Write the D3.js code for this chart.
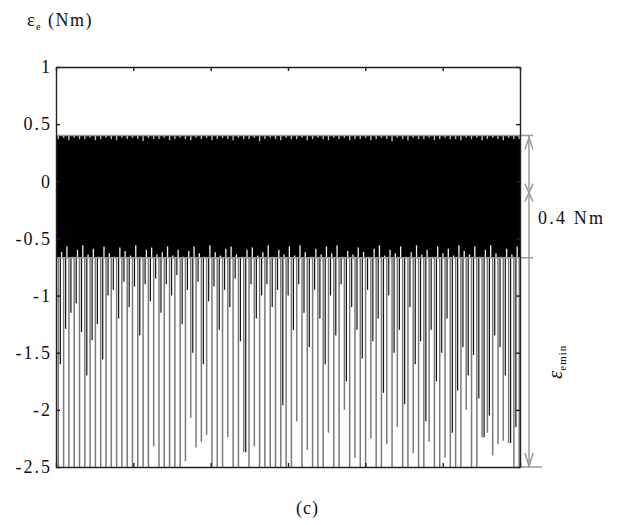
<!DOCTYPE html>
<html>
<head>
<meta charset="utf-8">
<script src="https://cdn.jsdelivr.net/npm/d3@7"></script>
<style>
  html, body { margin: 0; padding: 0; background: #fff; }
  svg { display: block; }
  svg text { font-family: 'Liberation Serif', 'Times New Roman', Times, serif !important; fill: #111; }
</style>
</head>
<body>
<svg id="chart" width="623" height="525"></svg>
<script>
// Axis ticks
const xTicks = [0, 1, 2, 3, 4, 5, 6];
const yTicks = [-2.5, -2, -1.5, -1, -0.5, 0, 0.5, 1];
const yTickLabels = ["-2.5", "-2", "-1.5", "-1", "-0.5", "0", "0.5", "1"];

// Torque ripple envelope levels (Nm)
const bandHigh = 0.4;
const bandLow = -0.67;
const axisMin = -2.5;

// Switching instants (s): one torque dip per step
const spikeStart = 0.03;
const spikeStep = 0.0685;

// Small notches on the upper envelope at each switching instant
const topDip = [
  0.37, 0.38, 0.36, 0.38, 0.37, 0.37, 0.38, 0.36, 0.37, 0.38,
  0.37, 0.36, 0.38, 0.37, 0.38, 0.37, 0.35, 0.38, 0.37, 0.37,
  0.38, 0.36, 0.37, 0.38, 0.37, 0.36, 0.38, 0.37, 0.38, 0.36,
  0.37, 0.38, 0.37, 0.36, 0.38, 0.37, 0.37, 0.38, 0.35, 0.37,
  0.38, 0.37, 0.36, 0.38, 0.37, 0.37, 0.38, 0.36, 0.37, 0.38,
  0.37, 0.36, 0.38, 0.37, 0.38, 0.36, 0.37, 0.37, 0.38, 0.36,
  0.37, 0.38, 0.37, 0.35, 0.38, 0.37, 0.36, 0.38, 0.37, 0.37,
  0.38, 0.36, 0.37, 0.38, 0.37, 0.37, 0.36, 0.38, 0.37, 0.38,
  0.36, 0.37, 0.38, 0.37, 0.36, 0.38, 0.37, 0.37
];

// Local minimum of the ripple between two dips (Nm)
const gapTop = [
  -0.62, -0.57, -0.66, -0.6, -0.56, -0.64, -0.59, -0.66, -0.57, -0.63,
  -0.66, -0.58, -0.61, -0.65, -0.56, -0.66, -0.6, -0.58, -0.64, -0.62,
  -0.57, -0.65, -0.6, -0.66, -0.61, -0.57, -0.63, -0.66, -0.56, -0.62,
  -0.65, -0.59, -0.57, -0.64, -0.66, -0.6, -0.58, -0.65, -0.62, -0.56,
  -0.66, -0.6, -0.64, -0.57, -0.65, -0.56, -0.62, -0.66, -0.59, -0.64,
  -0.57, -0.63, -0.56, -0.66, -0.61, -0.64, -0.58, -0.62, -0.66, -0.59,
  -0.56, -0.65, -0.6, -0.63, -0.57, -0.66, -0.62, -0.56, -0.64, -0.6,
  -0.66, -0.57, -0.63, -0.59, -0.65, -0.56, -0.61, -0.64, -0.57, -0.66,
  -0.6, -0.56, -0.63, -0.66, -0.59, -0.64, -0.57, -0.62
];

// Deepest value of each dip, first trace (Nm)
const deepMin = [
  -2.5, -2.5, -2.5, -2.5, -2.5, -2.5, -2.5, -2.5, -2.5, -2.5,
  -2.5, -2.5, -2.5, -2.5, -2.5, -2.5, -2.5, -2.5, -2.32, -2.5,
  -2.5, -2.5, -2.5, -2.5, -2.45, -2.07, -2.33, -2.28, -2.22, -2.5,
  -2.5, -2.5, -2.24, -2.5, -2.5, -2.37, -2.5, -2.32, -2.5, -2.5,
  -2.5, -2.5, -2.5, -2.5, -2.5, -2.1, -2.5, -2.35, -2.5, -2.5,
  -2.5, -2.2, -2.5, -2.5, -2.0, -2.5, -2.42, -2.5, -2.5, -2.25,
  -2.5, -2.5, -2.3, -2.5, -2.15, -2.5, -2.5, -2.38, -2.5, -2.5,
  -2.28, -2.5, -2.5, -2.42, -2.5, -2.5, -2.5, -2.0, -2.5, -2.5,
  -2.24, -2.2, -2.4, -2.3, -2.27, -2.29, -2.5, -2.5
];

// Deepest value of each dip, second trace (Nm)
const darkMin = [
  -1.6, -1.29, -1.15, -1.07, -1.32, -1.7, -1.39, -1.25, -1.56, -1.0,
  -0.95, -1.2, -0.88, -1.1, -0.92, -1.35, -0.9, -1.05, -0.85, -1.15,
  -0.9, -1.0, -0.82, -1.25, -0.95, -1.5, -0.88, -1.6, -1.05, -0.92,
  -1.3, -0.95, -1.1, -0.85, -1.4, -2.37, -0.9, -1.2, -1.0, -0.9,
  -1.1, -0.95, -1.96, -1.0, -1.3, -0.9, -1.15, -1.45, -0.95, -1.2,
  -1.6, -1.0, -1.35, -0.9, -1.75, -1.1, -1.3, -1.55, -0.95, -1.4,
  -1.2, -1.85, -1.0, -1.5, -1.3, -1.95, -1.1, -1.6, -1.4, -2.1,
  -1.3, -1.75, -1.5, -1.2, -2.2, -1.83, -1.45, -1.7, -1.52, -1.9,
  -2.24, -2.05, -1.35, -1.45, -1.7, -2.29, -2.15, -1.6
];

const svg = d3.select("#chart");
const x = d3.scaleLinear().domain([0, 6]).range([56, 520]);
const y = d3.scaleLinear().domain([-2.5, 1]).range([467, 67]);
const serif = "'Liberation Serif', 'Times New Roman', Times, serif";

const spikes = deepMin.map((d, i) => ({
  t: spikeStart + i * spikeStep,
  deep: d,
  dark: darkMin[i],
  gap: gapTop[i],
  dip: topDip[i]
}));

svg.append("clipPath").attr("id", "plotClip")
  .append("rect").attr("x", x(0)).attr("y", y(1))
  .attr("width", x(6) - x(0)).attr("height", y(-2.5) - y(1));
const plot = svg.append("g").attr("clip-path", "url(#plotClip)");

// Dense ripple band between the two envelopes
plot.append("path")
  .datum([0].concat(spikes.map(s => s.t), [6]))
  .attr("fill", "#000")
  .attr("d", d3.area()
    .x(d => x(d))
    .y0(y(bandLow))
    .y1(y(bandHigh)));

// Openings under the ripple between two dips
plot.selectAll("line.gap").data(spikes).join("line")
  .attr("class", "gap")
  .attr("x1", d => x(d.t + spikeStep * 0.62)).attr("x2", d => x(d.t + spikeStep * 0.62))
  .attr("y1", d => y(d.gap)).attr("y2", y(bandLow) + 2)
  .attr("stroke", "#f2f2f2").attr("stroke-width", 1.3);

// Dips: first trace (grey) and second trace (black)
plot.selectAll("line.deep").data(spikes).join("line")
  .attr("class", "deep")
  .attr("x1", d => x(d.t)).attr("x2", d => x(d.t))
  .attr("y1", y(bandLow)).attr("y2", d => y(d.deep))
  .attr("stroke", "#7a7a7a").attr("stroke-width", 1.5);

plot.selectAll("line.dark").data(spikes).join("line")
  .attr("class", "dark")
  .attr("x1", d => x(d.t + 0.026)).attr("x2", d => x(d.t + 0.026))
  .attr("y1", y(bandLow)).attr("y2", d => y(d.dark))
  .attr("stroke", "#111").attr("stroke-width", 1.2);

// Notches on the upper envelope
plot.selectAll("line.dip").data(spikes).join("line")
  .attr("class", "dip")
  .attr("x1", d => x(d.t)).attr("x2", d => x(d.t))
  .attr("y1", y(bandHigh)).attr("y2", d => y(d.dip))
  .attr("stroke", "#bbb").attr("stroke-width", 1.4);

// Envelope reference lines and dimension arrows
const ann = svg.append("g").attr("stroke", "#9a9a9a").attr("stroke-width", 1.5).attr("fill", "none");
const ax = 529;
ann.append("line").attr("x1", x(0)).attr("x2", 533).attr("y1", y(bandHigh)).attr("y2", y(bandHigh));
ann.append("line").attr("x1", x(0)).attr("x2", 533).attr("y1", y(bandLow)).attr("y2", y(bandLow));
ann.append("line").attr("x1", x(6)).attr("x2", 542).attr("y1", y(axisMin)).attr("y2", y(axisMin));
ann.append("line").attr("x1", ax).attr("x2", ax).attr("y1", y(bandHigh)).attr("y2", y(axisMin));
// arrow head at the top
ann.append("path").attr("d", `M${ax - 4},${y(bandHigh) + 14}L${ax},${y(bandHigh) + 2}L${ax + 4},${y(bandHigh) + 14}`);
// crossed marker on the ripple span
const ym = y(bandHigh) + 57;
ann.append("path").attr("d", `M${ax - 4},${ym - 9}L${ax + 4},${ym + 9}M${ax + 4},${ym - 9}L${ax - 4},${ym + 9}`);
// arrow head at the bottom
ann.append("path").attr("d", `M${ax - 4},${y(axisMin) - 14}L${ax},${y(axisMin) - 1}L${ax + 4},${y(axisMin) - 14}`);

// Frame and ticks
const frame = svg.append("g");
const fmt = d => yTickLabels[yTicks.indexOf(d)];
const left = frame.append("g").attr("transform", `translate(${x(0)},0)`)
  .call(d3.axisLeft(y).tickValues(yTicks).tickSizeInner(-4).tickSizeOuter(0).tickPadding(4).tickFormat(fmt));
frame.append("g").attr("transform", `translate(${x(6)},0)`)
  .call(d3.axisRight(y).tickValues(yTicks).tickSizeInner(-4).tickSizeOuter(0).tickFormat(""));
frame.append("g").attr("transform", `translate(0,${y(1)})`)
  .call(d3.axisTop(x).tickValues(xTicks).tickSizeInner(-4).tickSizeOuter(0).tickFormat(""));
frame.append("g").attr("transform", `translate(0,${y(-2.5)})`)
  .call(d3.axisBottom(x).tickValues(xTicks).tickSizeInner(-4).tickSizeOuter(0).tickFormat(""));
frame.selectAll("g").attr("font-family", null);
frame.selectAll(".domain, .tick line").attr("stroke", "#222").attr("stroke-width", 1.4);
left.selectAll(".tick text")
  .style("font-family", serif)
  .style("font-size", "18px")
  .attr("letter-spacing", 2)
  .attr("fill", "#111");

// Axis title
const title = svg.append("text").attr("x", 27).attr("y", 26)
  .style("font-family", serif).style("font-size", "18px").attr("letter-spacing", 1.5);
title.append("tspan").text("ε");
title.append("tspan").style("font-size", "10px").attr("dy", 4).text("e");
title.append("tspan").attr("dy", -4).text(" (Nm)");

// Ripple annotation
svg.append("text").attr("x", 538).attr("y", 224)
  .style("font-family", serif).style("font-size", "18px").attr("letter-spacing", 2.2).text("0.4 Nm");

// Minimum annotation, rotated
const emin = svg.append("text").attr("transform", "translate(562,379) rotate(-90)")
  .style("font-family", serif).style("font-size", "21px");
emin.append("tspan").style("font-style", "italic").text("ε");
emin.append("tspan").style("font-size", "11px").attr("dy", 4).attr("letter-spacing", 1).text("emin");

// Panel label
svg.append("text").attr("x", 296).attr("y", 514)
  .style("font-family", serif).style("font-size", "18px").attr("letter-spacing", 1).text("(c)");
</script>
</body>
</html>
